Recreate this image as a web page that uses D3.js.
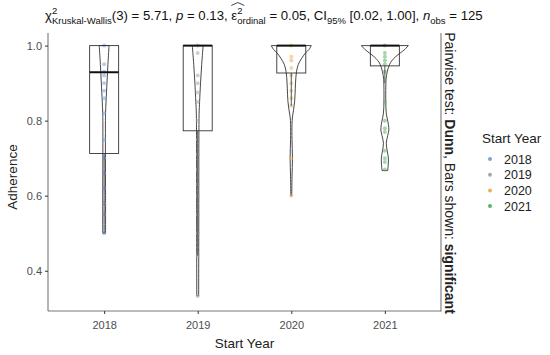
<!DOCTYPE html>
<html>
<head>
  <script src="https://cdn.jsdelivr.net/npm/d3@7"></script>
  <style>
    body { margin: 0; background: #fff; }
    svg { display: block; font-family: "Liberation Sans", Arial, sans-serif; }
  </style>
</head>
<body>
<script>
  // categories and summary values
  const groups = ["2018", "2019", "2020", "2021"];
  const colors = ["#7ba3d8", "#a8a8a8", "#e7b25c", "#5cb265"];
  const q1 = [0.7125, 0.773, 0.927, 0.946];
  const median = [0.929, 1.0, 1.0, 1.0];
  const q3 = [1.0, 1.0, 1.0, 1.0];
  const whiskerLow = [0.5, 0.44, 0.84, 0.9];
  const yTicks = [0.4, 0.6, 0.8, 1.0];

  // points (adherence)
  const pts2018 = [1.0, 0.95, 0.93, 0.92, 0.9, 0.88, 0.86, 0.82, 0.75, 0.7, 0.66, 0.62, 0.58, 0.55, 0.5];
  const pts2019 = [1.0, 0.98, 0.92, 0.9, 0.875, 0.85, 0.8, 0.75, 0.71, 0.67, 0.63, 0.6, 0.55, 0.5, 0.44, 0.333];
  const pts2020 = [1.0, 0.97, 0.96, 0.94, 0.92, 0.9, 0.88, 0.86, 0.84, 0.7, 0.6];
  const pts2021 = [1.0, 0.98, 0.97, 0.96, 0.95, 0.93, 0.85, 0.8, 0.78, 0.77, 0.72, 0.7, 0.69, 0.67];

  // violin profiles: [adherence, relative density]
  const vio2018 = [[1.0, 0.21], [0.95, 0.16], [0.9, 0.12], [0.85, 0.08], [0.82, 0.06], [0.8, 0.055], [0.7, 0.055], [0.6, 0.06], [0.5, 0.06]];
  const vio2019 = [[1.0, 0.23], [0.95, 0.17], [0.9, 0.12], [0.85, 0.08], [0.82, 0.06], [0.75, 0.05], [0.5, 0.045], [0.333, 0.04]];
  const vio2020 = [[1.0, 0.85], [0.99, 0.76], [0.98, 0.6], [0.965, 0.43], [0.95, 0.3], [0.93, 0.22], [0.9, 0.18], [0.87, 0.16], [0.85, 0.14], [0.83, 0.1], [0.81, 0.05], [0.79, 0.03], [0.75, 0.03], [0.7, 0.05], [0.65, 0.03], [0.6, 0.02]];
  const vio2021 = [[1.0, 1.0], [0.99, 0.85], [0.98, 0.65], [0.97, 0.45], [0.96, 0.3], [0.95, 0.2], [0.93, 0.1], [0.91, 0.05], [0.89, 0.04], [0.85, 0.04], [0.82, 0.06], [0.79, 0.15], [0.775, 0.17], [0.76, 0.12], [0.74, 0.06], [0.72, 0.1], [0.7, 0.15], [0.68, 0.14], [0.667, 0.12]];

  const points = [pts2018, pts2019, pts2020, pts2021];
  const violins = [vio2018, vio2019, vio2020, vio2021];

  const W = 550, H = 355;
  const svg = d3.select("body").append("svg").attr("width", W).attr("height", H);

  const x = d3.scalePoint().domain(groups).range([48, 441]).padding(0.6);
  const y = d3.scaleLinear().domain([0.2927, 1.0336]).range([311, 33]);
  const wScale = d3.scaleLinear().domain([0, 1]).range([0, 23.5]);
  const boxHalf = 14.5;

  // violins
  groups.forEach(function (g, i) {
    const cx = x(g);
    const area = d3.area()
      .y(function (d) { return y(d[0]); })
      .x0(function (d) { return cx - wScale(d[1]); })
      .x1(function (d) { return cx + wScale(d[1]); })
      .curve(d3.curveCatmullRom);
    svg.append("path")
      .datum(violins[i])
      .attr("d", area)
      .attr("fill", "none")
      .attr("stroke", "#333")
      .attr("stroke-width", 0.9);
  });

  // points
  groups.forEach(function (g, i) {
    svg.selectAll("circle.p" + g)
      .data(points[i])
      .enter()
      .append("circle")
      .attr("class", "p" + g)
      .attr("cx", x(g))
      .attr("cy", function (d) { return y(d); })
      .attr("r", 2)
      .attr("fill", colors[i])
      .attr("opacity", 0.55);
  });

  // boxes
  groups.forEach(function (g, i) {
    const cx = x(g);
    svg.append("line")
      .attr("x1", cx).attr("x2", cx)
      .attr("y1", y(q1[i])).attr("y2", y(whiskerLow[i]))
      .attr("stroke", "#444").attr("stroke-width", 0.9);
    svg.append("rect")
      .attr("x", cx - boxHalf)
      .attr("y", y(q3[i]))
      .attr("width", boxHalf * 2)
      .attr("height", y(q1[i]) - y(q3[i]))
      .attr("fill", "none")
      .attr("stroke", "#333")
      .attr("stroke-width", 0.9);
    svg.append("line")
      .attr("x1", cx - boxHalf).attr("x2", cx + boxHalf)
      .attr("y1", y(median[i])).attr("y2", y(median[i]))
      .attr("stroke", "#111").attr("stroke-width", 2);
  });

  // axes
  const yAxis = svg.append("g")
    .attr("transform", "translate(48,0)")
    .call(d3.axisLeft(y).tickValues(yTicks).tickFormat(d3.format(".1f")).tickSize(3).tickSizeOuter(0));
  const xAxis = svg.append("g")
    .attr("transform", "translate(0,311)")
    .call(d3.axisBottom(x).tickSize(3).tickSizeOuter(0));
  [yAxis, xAxis].forEach(function (a) {
    a.select(".domain").attr("stroke", "#777").attr("stroke-width", 1.1);
    a.selectAll(".tick line").attr("stroke", "#333");
    a.selectAll(".tick text").attr("fill", "#4d4d4d").attr("font-size", "11px")
      .attr("font-family", "Liberation Sans, Arial, sans-serif");
  });
  xAxis.selectAll(".tick text").attr("dy", "1.05em");
  xAxis.select(".domain").attr("d", "M48,0H441");
  yAxis.select(".domain").attr("d", "M0,33V311");

  // right-hand line
  svg.append("line")
    .attr("x1", 441).attr("x2", 441).attr("y1", 33).attr("y2", 311.5)
    .attr("stroke", "#777").attr("stroke-width", 1.1);

  // axis titles
  svg.append("text")
    .attr("x", 244.5).attr("y", 348)
    .attr("text-anchor", "middle")
    .attr("font-size", "13.5px").attr("fill", "#222")
    .text("Start Year");
  svg.append("text")
    .attr("transform", "translate(17,177) rotate(-90)")
    .attr("text-anchor", "middle")
    .attr("font-size", "13.5px").attr("fill", "#222")
    .text("Adherence");

  // right caption (rotated)
  const cap = svg.append("text")
    .attr("transform", "translate(445,173) rotate(90)")
    .attr("text-anchor", "middle")
    .attr("font-size", "14px").attr("fill", "#222");
  cap.append("tspan").text("Pairwise test: ");
  cap.append("tspan").attr("font-weight", "bold").text("Dunn");
  cap.append("tspan").text(", Bars shown: ");
  cap.append("tspan").attr("font-weight", "bold").text("significant");

  // legend
  const leg = svg.append("g");
  leg.append("text").attr("x", 482).attr("y", 143)
    .attr("font-size", "13.5px").attr("fill", "#222").text("Start Year");
  groups.forEach(function (g, i) {
    const ly = 159 + i * 15.7;
    leg.append("circle").attr("cx", 490).attr("cy", ly).attr("r", 2)
      .attr("fill", colors[i]);
    leg.append("text").attr("x", 504).attr("y", ly + 4.5)
      .attr("font-size", "12.5px").attr("fill", "#222").text(g);
  });

  // title with sub/superscripts
  const tg = svg.append("g");
  const base = 13.2, small = 9.5, yb = 20;
  let cx = 45;
  function put(txt, size, dy, italic, advance) {
    const t = tg.append("text")
      .attr("x", cx).attr("y", yb + dy)
      .attr("font-size", size + "px").attr("fill", "#111")
      .attr("font-style", italic ? "italic" : null)
      .attr("xml:space", "preserve")
      .text(txt);
    const w = t.node().getComputedTextLength();
    if (advance !== false) cx += w;
    return w;
  }
  function stack(sup, sub) {
    const x0 = cx;
    const w1 = put(sup, small, -6, false, false);
    const w2 = put(sub, small, 4, false, false);
    cx = x0 + Math.max(w1, w2);
  }
  put("\u03c7", base, 0);
  stack("2", "Kruskal-Wallis");
  put("(3) = 5.71, ", base, 0);
  put("p", base, 0, true);
  put(" = 0.13, ", base, 0);
  const ex = cx;
  put("\u03b5", base, 0);
  stack("2", "ordinal");
  tg.append("path")
    .attr("d", "M" + (ex) + "," + (yb - 14.5) + "L" + (ex + 6.5) + "," + (yb - 17.5) + "L" + (ex + 13) + "," + (yb - 14.5))
    .attr("fill", "none").attr("stroke", "#111").attr("stroke-width", 0.8);
  put(" = 0.05, CI", base, 0);
  put("95%", small, 4);
  put(" [0.02, 1.00], ", base, 0);
  put("n", base, 0, true);
  put("obs", small, 4);
  put(" = 125", base, 0);
</script>
</body>
</html>
